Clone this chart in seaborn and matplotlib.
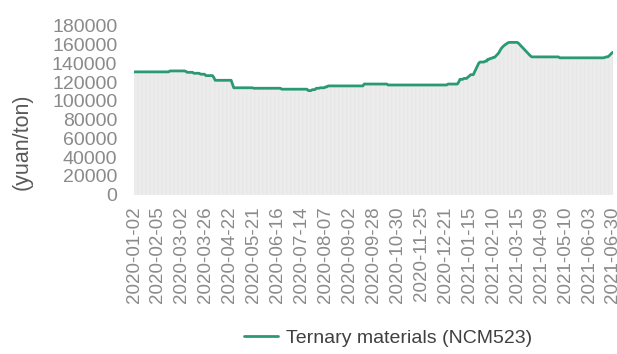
import numpy as np
import pandas as pd
import matplotlib
matplotlib.use("Agg")
import matplotlib.pyplot as plt
import seaborn as sns

# Trading-day labels shown on the x axis (every 18th trading day)
tick_labels = [
    "2020-01-02", "2020-02-05", "2020-03-02", "2020-03-26", "2020-04-22",
    "2020-05-21", "2020-06-16", "2020-07-14", "2020-08-07", "2020-09-02",
    "2020-09-28", "2020-10-30", "2020-11-25", "2020-12-21", "2021-01-15",
    "2021-02-10", "2021-03-15", "2021-04-09", "2021-05-10", "2021-06-03",
    "2021-06-30",
]
label_step = 18

# Daily price of ternary materials (NCM523), yuan/ton; one row per 18 trading days
price = [
    131000, 131000, 131000, 131000, 131000, 131000, 131000, 131000, 131000,
    131000, 131000, 131000, 131000, 131000, 131000, 131000, 131000, 131000,
    131000, 131000, 131000, 131000, 131000, 131000, 131000, 131000, 131000,
    132000, 132000, 132000, 132000, 132000, 132000, 132000, 132000, 132000,
    132000, 132000, 132000, 131500, 130500, 130500, 130500, 130500, 130500,
    129500, 129500, 129500, 129500, 129500, 128500, 128500, 128500, 128500,
    127000, 127000, 127000, 127000, 127000, 127000, 125000, 122000, 122000,
    122000, 122000, 122000, 122000, 122000, 122000, 122000, 122000, 122000,
    122000, 122000, 118000, 114000, 114000, 114000, 114000, 114000, 114000,
    114000, 114000, 114000, 114000, 114000, 114000, 114000, 114000, 114000,
    113500, 113500, 113500, 113500, 113500, 113500, 113500, 113500, 113500,
    113500, 113500, 113500, 113500, 113500, 113500, 113500, 113500, 113500,
    113500, 113500, 113500, 112500, 112500, 112500, 112500, 112500, 112500,
    112500, 112500, 112500, 112500, 112500, 112500, 112500, 112500, 112500,
    112500, 112500, 112500, 112500, 112500, 111000, 111000, 111000, 112000,
    112000, 112000, 113500, 113500, 113500, 114000, 114000, 114000, 114000,
    115000, 115000, 116000, 116000, 116000, 116000, 116000, 116000, 116000,
    116000, 116000, 116000, 116000, 116000, 116000, 116000, 116000, 116000,
    116000, 116000, 116000, 116000, 116000, 116000, 116000, 116000, 116000,
    116000, 116000, 118000, 118000, 118000, 118000, 118000, 118000, 118000,
    118000, 118000, 118000, 118000, 118000, 118000, 118000, 118000, 118000,
    118000, 118000, 117000, 117000, 117000, 117000, 117000, 117000, 117000,
    117000, 117000, 117000, 117000, 117000, 117000, 117000, 117000, 117000,
    117000, 117000, 117000, 117000, 117000, 117000, 117000, 117000, 117000,
    117000, 117000, 117000, 117000, 117000, 117000, 117000, 117000, 117000,
    117000, 117000, 117000, 117000, 117000, 117000, 117000, 117000, 117000,
    117000, 117000, 118000, 118000, 118000, 118000, 118000, 118000, 118000,
    118000, 120000, 123000, 123000, 123000, 124000, 124000, 124000, 125500,
    126500, 128000, 128000, 128000, 131000, 134000, 137000, 140000, 141500,
    141500, 141500, 141500, 142500, 142500, 144500, 144500, 145500, 145500,
    146500, 146500, 148000, 149500, 151000, 153500, 156000, 157500, 159000,
    160000, 161000, 162000, 162500, 162500, 162500, 162500, 162500, 162500,
    162500, 161500, 160000, 158500, 157000, 155500, 154000, 152500, 151000,
    149500, 148000, 147000, 147000, 147000, 147000, 147000, 147000, 147000,
    147000, 147000, 147000, 147000, 147000, 147000, 147000, 147000, 147000,
    147000, 147000, 147000, 147000, 147000, 146000, 146000, 146000, 146000,
    146000, 146000, 146000, 146000, 146000, 146000, 146000, 146000, 146000,
    146000, 146000, 146000, 146000, 146000, 146000, 146000, 146000, 146000,
    146000, 146000, 146000, 146000, 146000, 146000, 146000, 146000, 146000,
    146000, 146000, 146000, 146500, 147000, 147000, 148000, 149500, 151000,
    152000,
]
series_name = "Ternary materials (NCM523)"

sns.set_theme(style="white")
plt.rcParams["font.family"] = ["Liberation Sans", "DejaVu Sans"]

df = pd.DataFrame({"day": np.arange(len(price)), "price": price})

W, H = 617, 354
fig = plt.figure(figsize=(W / 100, H / 100), dpi=100)
ax = fig.add_axes([134 / W, 159.5 / H, 479 / W, 168.5 / H])

# light grey drop bars beneath the price line, with faint separators
ax.bar(df["day"], df["price"], width=1.0, color="#e6e6e6",
       edgecolor="#f1f1f1", linewidth=0.35, zorder=1)
sns.lineplot(data=df, x="day", y="price", ax=ax, color="#2a9a75",
             linewidth=2.0, label=series_name, zorder=3)

ax.set_xlim(0, len(price) - 1)
ax.set_ylim(0, 180000)
ax.set_yticks(np.arange(0, 180001, 20000))
ax.set_xticks(np.arange(0, len(price), label_step))
ax.set_xticklabels(tick_labels, rotation=90)
ax.tick_params(axis="y", length=0, pad=12, labelsize=14, labelcolor="#8a8a8a")
ax.tick_params(axis="x", length=0, pad=8.5, labelsize=13.5, labelcolor="#8a8a8a")
for s in ax.spines.values():
    s.set_visible(False)

ax.set_xlabel("")
ax.set_ylabel("(yuan/ton)", fontsize=15.5, color="#595959")
ax.yaxis.set_label_coords(-0.211, 0.315)

handles, labels = ax.get_legend_handles_labels()
ax.get_legend().remove()
fig.legend(handles, labels, loc="center", bbox_to_anchor=(388 / W, 16 / H),
           frameon=False, fontsize=14, handlelength=1.75, handletextpad=0.45,
           labelcolor="#404040")

fig.savefig("out.png", dpi=100)
